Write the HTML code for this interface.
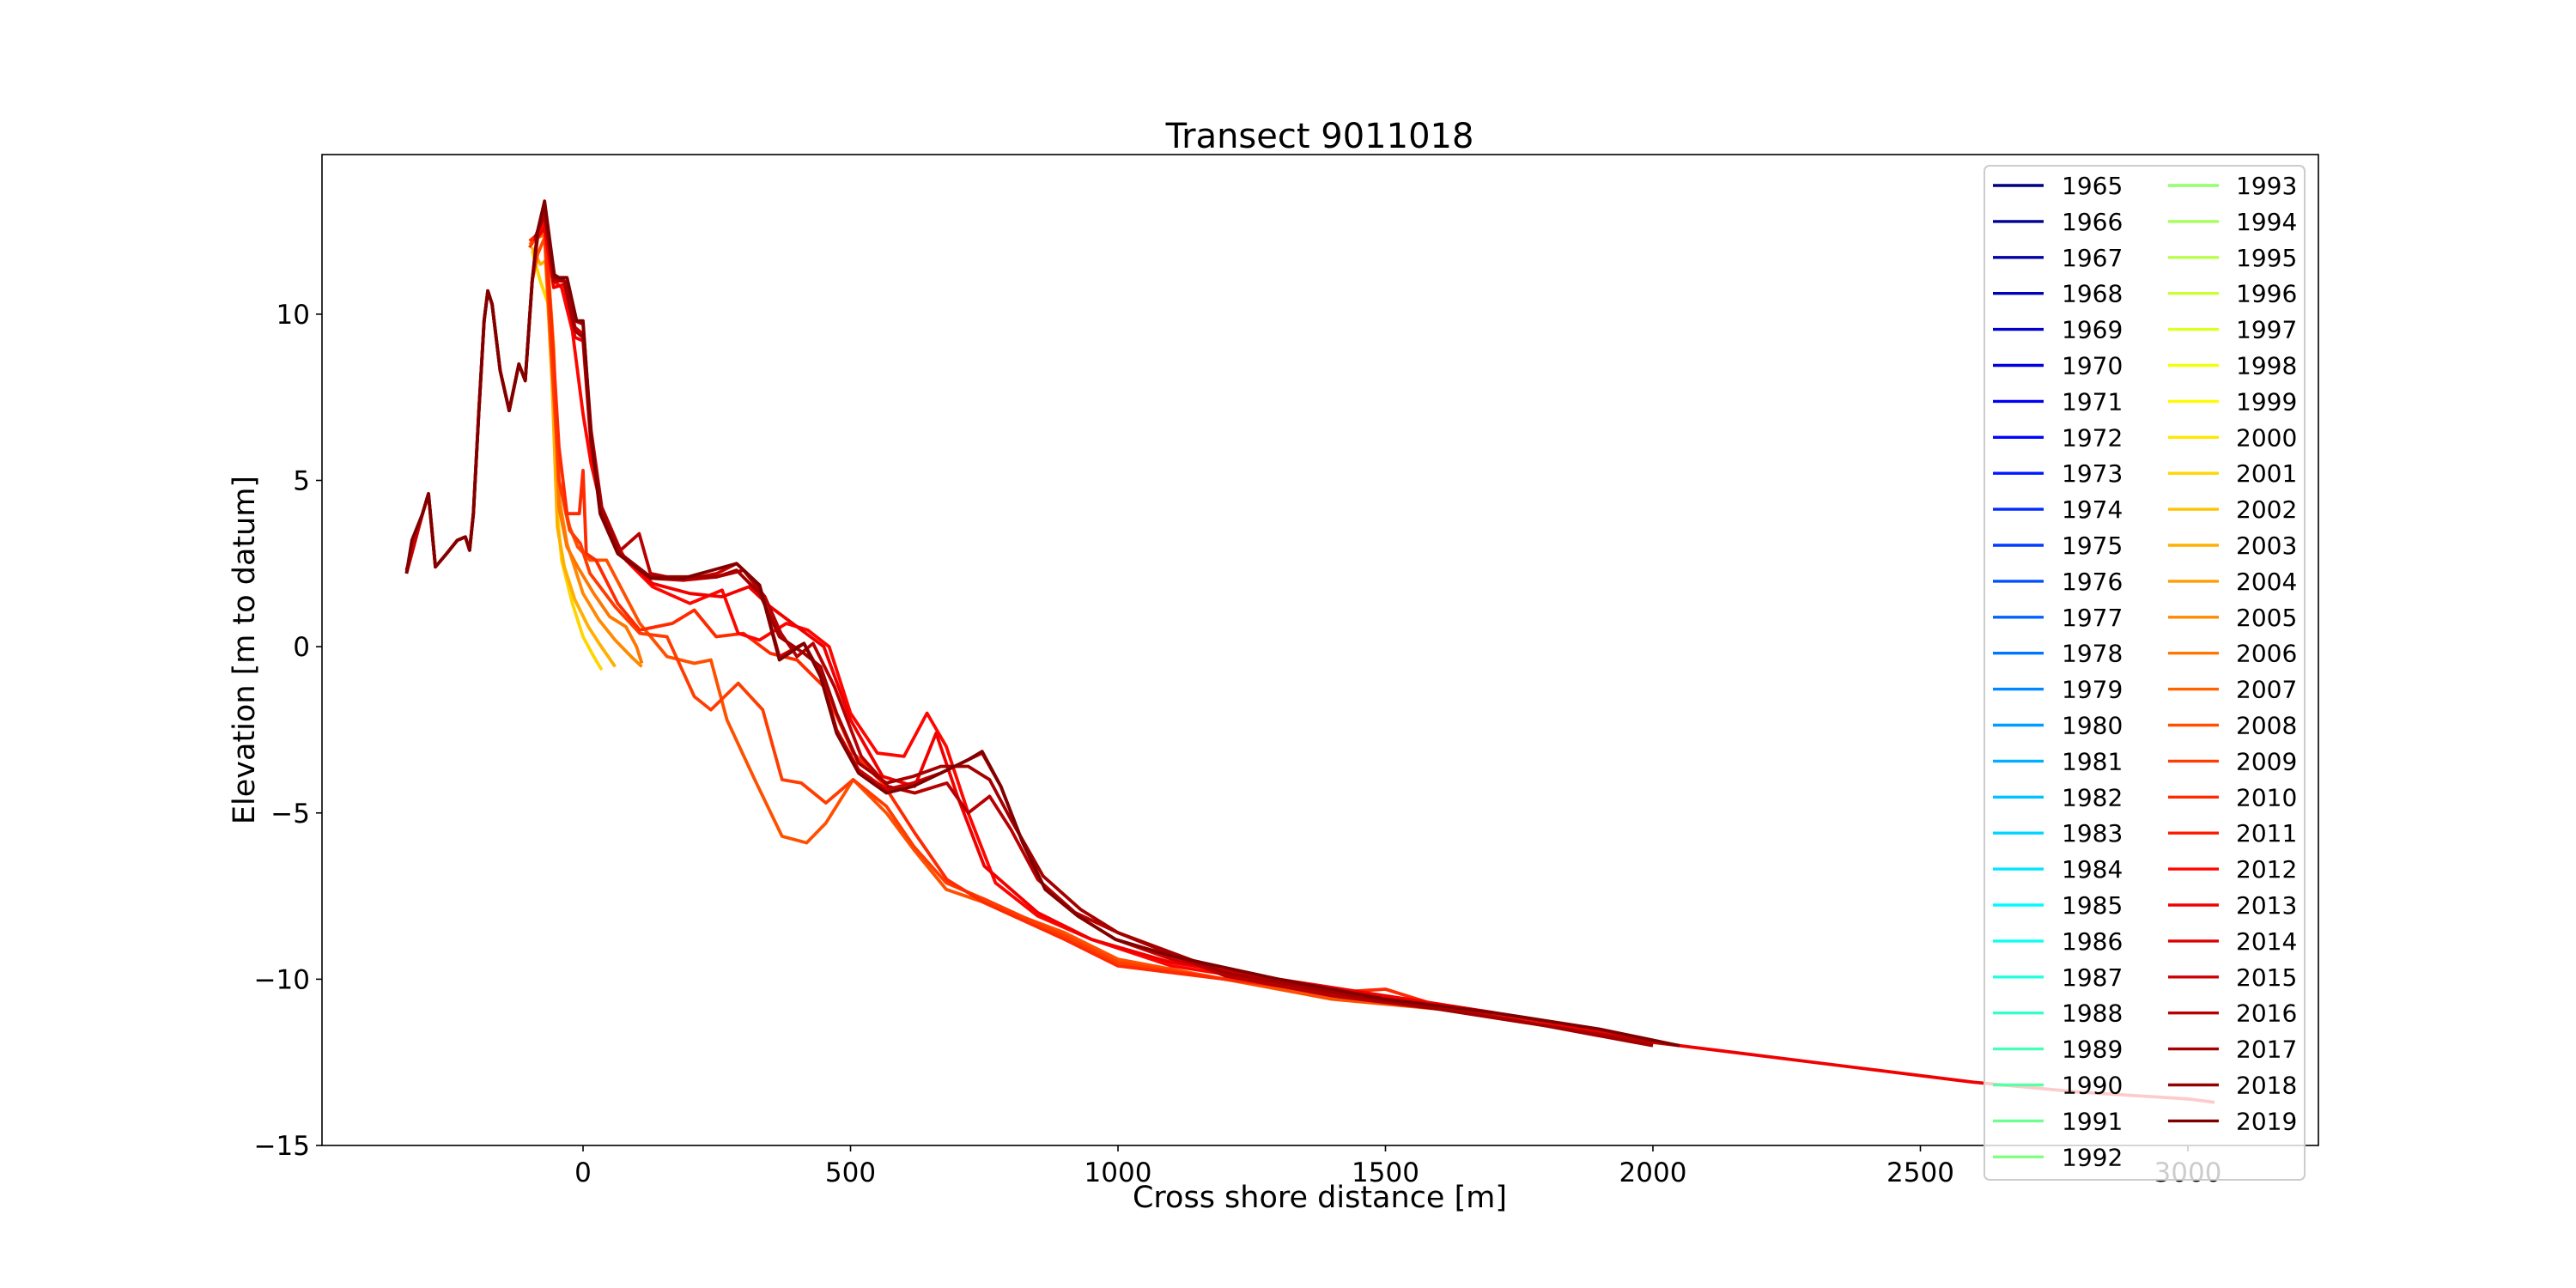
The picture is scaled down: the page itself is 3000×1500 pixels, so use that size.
<!DOCTYPE html>
<html><head><meta charset="utf-8"><style>
html,body{margin:0;padding:0;background:#fff;}
svg{display:block;font-family:"DejaVu Sans","Liberation Sans",sans-serif;}
</style></head><body>
<svg id="chart" width="3000" height="1500" viewBox="0 0 3000 1500" xmlns="http://www.w3.org/2000/svg">
<rect width="3000" height="1500" fill="#fff"/>
<text x="1537" y="172" font-size="40" text-anchor="middle">Transect 9011018</text>
<text x="1537" y="1406" font-size="35" text-anchor="middle">Cross shore distance [m]</text>
<text transform="translate(296,757) rotate(-90)" font-size="35" text-anchor="middle">Elevation [m to datum]</text>
<g id="plot"></g>
<g id="axes"></g>
<g id="legend"></g>
</svg>
<script>
const legendYears = [];
for (let y = 1965; y <= 2019; y++) legendYears.push(y);
const xTicks = [0, 500, 1000, 1500, 2000, 2500, 3000];
const yTicks = [-15, -10, -5, 0, 5, 10];
const seriesYears = [2001, 2003, 2005, 2006, 2008, 2009, 2010, 2012, 2013, 2015, 2016, 2017, 2019];
const x2001 = [-95,-80,-65,-55,-48,-40,-20,0,20,35];
const y2001 = [11.9,11,10.3,8,4,2.6,1.3,0.3,-0.3,-0.7];
const x2003 = [-95,-80,-70,-58,-48,-35,-15,10,30,60];
const y2003 = [12,11.5,11.6,8,3.6,2.4,1.4,0.6,0.1,-0.6];
const x2005 = [-100,-85,-70,-55,-45,-30,0,30,60,90,110];
const y2005 = [12.2,12.4,12.5,9,4.5,3.1,1.6,0.8,0.2,-0.3,-0.6];
const x2006 = [-100,-85,-70,-55,-45,-30,-10,20,50,80,100,110];
const y2006 = [12.1,12.3,12.4,8.5,4.2,3,2.4,1.6,0.9,0.6,0,-0.5];
const x2008 = [-330,-300,-289,-276,-255,-235,-220,-212,-205,-195,-185,-178,-170,-155,-138,-120,-108,-95,-85,-72,-60,-45,-25,-10,13,44,106,157,208,239,269,321,372,418,454,505,567,618,679,751,900,1000,1200,1400,1600];
const y2008 = [2.3,4,4.6,2.4,2.8,3.2,3.3,2.9,4,7,9.8,10.7,10.3,8.3,7.1,8.5,8,11,11.8,12.3,9,5,3.6,3,2.6,2.6,0.7,-0.3,-0.5,-0.4,-2.2,-4,-5.7,-5.9,-5.3,-4,-5,-6.1,-7.3,-7.7,-8.6,-9.4,-10,-10.6,-10.9];
const x2009 = [-100,-85,-72,-60,-45,-25,-5,13,60,106,157,208,239,290,336,372,408,454,505,567,618,679,751,900,1000,1200,1400,1600,1700];
const y2009 = [12,12.4,12.6,9.5,5,3.5,3.1,2.2,1.2,0.4,0.3,-1.5,-1.9,-1.1,-1.9,-4,-4.1,-4.7,-4,-4.8,-6,-7.1,-7.6,-8.7,-9.5,-10,-10.4,-10.8,-11];
const x2010 = [-100,-85,-72,-60,-45,-30,-7,0,6,24,65,106,167,208,249,300,350,400,450,505,560,620,680,750,900,1000,1200,1400,1500,1600,1700];
const y2010 = [12.2,12.4,12.7,10,6,4,4,5.3,2.8,2.6,1.3,0.5,0.7,1.1,0.3,0.4,-0.2,-0.4,-1.2,-3.2,-4.1,-5.6,-7,-7.7,-8.8,-9.6,-10,-10.4,-10.3,-10.8,-11];
const x2012 = [-90,-72,-55,-40,-20,0,15,40,80,130,200,260,290,330,380,420,460,500,550,600,643,679,720,771,850,950,1100,1300,1500,1700];
const y2012 = [12.2,12.8,11,10.8,9.5,7,5.5,3.8,2.6,1.8,1.3,1.7,0.4,0.2,0.7,0.5,0,-2,-3.2,-3.3,-2.0,-3,-5,-7.1,-8.1,-8.8,-9.6,-10.1,-10.5,-11];
const x2013 = [-330,-300,-289,-276,-255,-235,-220,-212,-205,-195,-185,-178,-170,-155,-138,-120,-108,-95,-85,-72,-55,-35,-15,0,15,35,70,130,200,260,310,350,400,450,500,560,620,660,700,750,850,950,1100,1300,1500,1700,1900,2050,2200,2400,2600,2800,3000,3050];
const y2013 = [2.3,4,4.6,2.4,2.8,3.2,3.3,2.9,4,7,9.8,10.7,10.3,8.3,7.1,8.5,8,11,12.3,12.6,10.8,10.9,9.3,9.2,6,4,2.8,1.9,1.6,1.5,1.8,1.2,0.6,0,-2.2,-3.9,-4.2,-2.6,-4.5,-6.6,-8,-8.8,-9.5,-10,-10.5,-11,-11.6,-12.0,-12.3,-12.7,-13.1,-13.4,-13.6,-13.7];
const x2015 = [-330,-300,-289,-276,-255,-235,-220,-212,-205,-195,-185,-178,-170,-155,-138,-120,-108,-95,-85,-72,-55,-35,-15,0,15,32,65,126,187,250,287,330,367,413,444,474,515,567,617,669,720,746,781,822,864,925,995,1100,1300,1500,1700,1900,2050];
const y2015 = [2.2,4,4.6,2.4,2.8,3.2,3.3,2.9,4,7,9.8,10.7,10.3,8.3,7.1,8.5,8,11,12.5,13,11.1,11,9.6,9.4,6.3,4,2.8,2.06,2.0,2.2,2.5,1.85,-0.3,0.1,-0.8,-2.5,-3.7,-4.3,-4.1,-3.8,-3.4,-3.2,-4.2,-5.9,-7.3,-8.1,-8.8,-9.4,-10.1,-10.6,-11.1,-11.7,-12.0];
const x2016 = [-90,-72,-55,-35,-15,0,15,35,70,105,126,187,250,300,340,370,400,430,470,520,570,620,680,720,760,800,850,920,1000,1200,1400,1600,1800,2000];
const y2016 = [12.2,13.2,11,11,9.8,9.7,6.5,4.2,2.9,3.4,2.2,2.0,2.1,2.3,1.5,0.4,-0.3,0.1,-1.2,-3.3,-4.2,-4.4,-4.1,-5,-4.5,-5.5,-7,-8,-8.6,-9.9,-10.5,-10.9,-11.4,-11.9];
const x2017 = [-90,-72,-55,-35,-15,0,15,35,70,126,187,250,287,330,367,413,444,474,515,567,617,669,720,760,800,860,930,1000,1200,1400,1600,1800,2000];
const y2017 = [12.3,13,11.2,11,9.5,9.3,6.2,4.1,2.8,2.1,2.1,2.1,2.3,1.6,0.3,-0.2,-0.6,-2,-3.5,-4.1,-3.9,-3.6,-3.6,-4,-5.2,-6.9,-7.9,-8.6,-9.8,-10.4,-10.9,-11.4,-12.0];
const x2019 = [-330,-320,-300,-289,-276,-255,-235,-220,-212,-205,-195,-185,-178,-170,-155,-138,-120,-108,-95,-85,-72,-53,-30,-12,0,15,32,65,126,187,287,330,367,413,444,474,515,567,617,669,720,746,781,822,864,925,995,1100,1300,1500,1700,1900,2050];
const y2019 = [2.2,3.2,4,4.6,2.4,2.8,3.2,3.3,2.9,4,7,9.8,10.7,10.3,8.3,7.1,8.5,8,11,12.5,13.4,11.1,11.1,9.8,9.8,6.3,4,2.8,2.06,2.06,2.5,1.85,-0.4,0.1,-0.9,-2.6,-3.8,-4.4,-4.2,-3.8,-3.4,-3.15,-4.2,-5.9,-7.3,-8.1,-8.8,-9.3,-10,-10.6,-11,-11.5,-12.0];
const seriesX = [x2001,x2003,x2005,x2006,x2008,x2009,x2010,x2012,x2013,x2015,x2016,x2017,x2019];
const seriesY = [y2001,y2003,y2005,y2006,y2008,y2009,y2010,y2012,y2013,y2015,y2016,y2017,y2019];

const L=375,R=2700,T=180,B=1334;
const xMin=-488,xMax=3244,yMin=-15.0,yMax=14.8;
function sx(v){return L+(v-xMin)/(xMax-xMin)*(R-L);}
function sy(v){return B-(v-yMin)/(yMax-yMin)*(B-T);}
function jet(t){
  const c=v=>Math.round(255*Math.max(0,Math.min(1,v)));
  return `rgb(${c(1.5-Math.abs(4*t-3))},${c(1.5-Math.abs(4*t-2))},${c(1.5-Math.abs(4*t-1))})`;
}
function colorFor(year){return jet((year-1965)/(2019-1965));}
const NS="http://www.w3.org/2000/svg";
function mk(tag,attrs,parent){const e=document.createElementNS(NS,tag);for(const k in attrs)e.setAttribute(k,attrs[k]);parent.appendChild(e);return e;}

const plot=document.getElementById('plot');
seriesYears.forEach((yr,i)=>{
  const d=seriesX[i].map((x,j)=>(j?'L':'M')+sx(x).toFixed(1)+','+sy(seriesY[i][j]).toFixed(1)).join(' ');
  const p=mk('path',{d:d,fill:'none',stroke:colorFor(yr),'stroke-width':3.8,'stroke-linejoin':'round'},plot);
  
  
});

const axes=document.getElementById('axes');
const frame=mk('rect',{x:L,y:T,width:R-L,height:B-T,fill:'none',stroke:'#000','stroke-width':1.6},axes);


xTicks.forEach(v=>{
  const X=sx(v);
  mk('line',{x1:X,x2:X,y1:B,y2:B+7,stroke:'#000','stroke-width':1.6},axes);
  const t=mk('text',{x:X,y:B+42,'font-size':31,'text-anchor':'middle'},axes);
  t.textContent=String(v);
  
  
});
yTicks.forEach(v=>{
  const Y=sy(v);
  mk('line',{x1:L-7,x2:L,y1:Y,y2:Y,stroke:'#000','stroke-width':1.6},axes);
  const t=mk('text',{x:L-14,y:Y+11,'font-size':31,'text-anchor':'end'},axes);
  t.textContent=(v<0?'\u2212'+Math.abs(v):String(v));
  
  
});

const lg=document.getElementById('legend');
const box=mk('rect',{x:2311,y:193,width:373,height:1181,rx:6,fill:'rgba(255,255,255,0.8)',stroke:'#ccc','stroke-width':2},lg);


legendYears.forEach((yr,i)=>{
  const col=i<28?0:1, row=i<28?i:i-28;
  const lx=col?2525:2321, tx=col?2604:2401, Y=216+row*41.9;
  const g=mk('g',{},lg);
  
  
  mk('line',{x1:lx,x2:lx+59,y1:Y,y2:Y,stroke:colorFor(yr),'stroke-width':3.4},g);
  const t=mk('text',{x:tx,y:Y+10,'font-size':28},g);
  t.textContent=String(yr);
});
</script>
</body></html>
